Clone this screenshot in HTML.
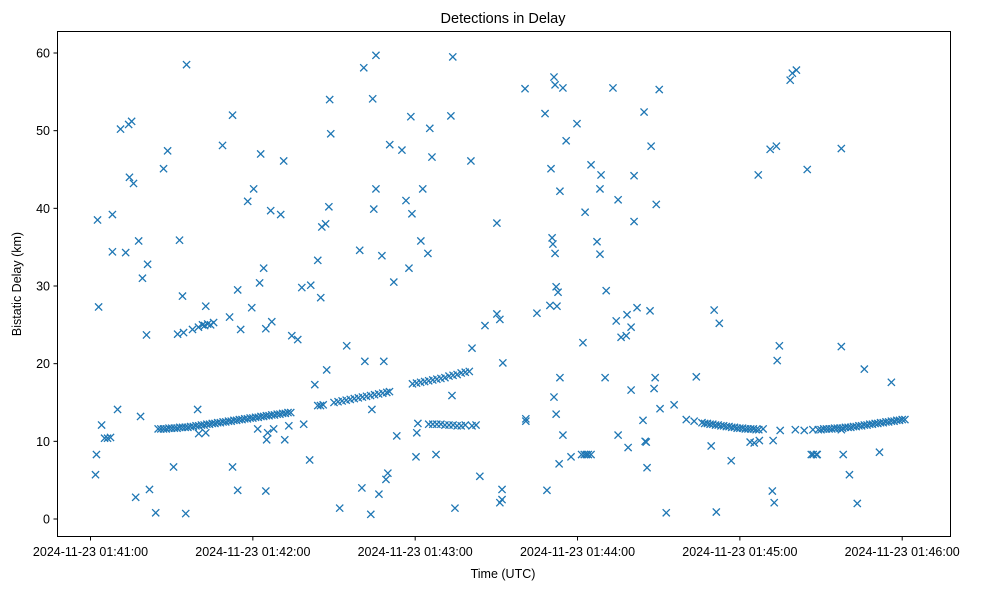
<!DOCTYPE html>
<html><head><meta charset="utf-8"><style>
body{margin:0;background:#fff;}
svg text{font-family:"Liberation Sans","DejaVu Sans",sans-serif;fill:#000;}
</style></head><body>
<svg id="chart" width="983" height="590" viewBox="0 0 983 590" xmlns="http://www.w3.org/2000/svg">
<rect x="0" y="0" width="983" height="590" fill="#fff"/>
<text x="503" y="23" font-size="14.5" text-anchor="middle">Detections in Delay</text>
<g id="marks"></g>
<rect x="57.5" y="31.5" width="893" height="505" fill="none" stroke="#000" stroke-width="1"/>
<g id="xaxis"></g>
<g id="yaxis"></g>
<text x="503" y="578" font-size="12.5" text-anchor="middle">Time (UTC)</text>
<text transform="translate(21,284) rotate(-90)" font-size="12.5" text-anchor="middle">Bistatic Delay (km)</text>
</svg>
<script>
// seconds after 2024-11-23 01:41:00
const scatterTimes=[1.85,2.2,2.6,3.0,4.1,5.2,6.3,7.4,8.1,8.1,10.0,11.1,13.0,14.1,14.4,15.2,15.9,16.7,17.8,18.5,19.2,20.7,21.1,21.8,24.1,27.0,28.5,30.7,32.9,34.0,35.2,35.5,39.6,40.0,42.6,42.6,48.8,51.4,52.5,52.5,54.4,54.4,55.5,58.1,59.6,60.3,61.8,62.5,62.9,64.0,64.8,64.8,65.1,65.5,66.6,67.0,67.7,70.3,71.4,71.8,73.3,74.4,76.6,78.1,78.8,81.0,81.4,82.9,84.0,85.1,85.5,86.9,87.3,88.1,88.4,88.8,92.1,94.7,99.5,100.3,101.0,101.4,103.6,104.0,104.3,104.7,105.5,105.5,106.6,107.7,108.4,109.2,109.9,110.6,112.1,113.2,115.1,116.6,117.7,118.4,118.8,120.3,120.6,121.0,122.1,122.8,124.7,125.4,126.2,127.7,133.2,133.6,133.9,134.7,140.6,141.0,143.9,145.8,150.2,150.2,151.3,151.3,152.1,152.1,152.4,160.6,160.9,160.9,165.0,168.0,168.7,169.8,170.2,170.6,170.9,171.3,171.3,171.7,171.7,172.1,172.1,172.4,172.8,173.2,173.5,173.5,174.6,174.6,175.8,177.6,179.8,182.0,182.8,185.0,187.2,188.3,188.3,188.7,190.2,190.6,193.1,194.3,195.0,195.0,196.1,198.0,198.3,198.7,199.8,199.8,200.9,200.9,202.0,204.2,204.6,205.0,205.4,205.7,206.8,207.2,208.3,208.7,209.1,210.2,210.5,212.8,215.7,220.2,223.1,223.9,229.4,230.5,231.3,232.4,236.8,243.8,245.3,246.8,247.2,248.6,251.2,252.0,252.3,252.7,253.5,253.8,254.6,254.9,258.6,259.4,260.5,260.9,263.8,264.9,266.4,267.1,268.3,268.6,277.5,277.5,277.5,278.2,280.5,283.4,286.0,291.6,296.0];
const scatterDelays=[5.7,8.3,38.5,27.3,12.1,10.4,10.4,10.5,39.2,34.4,14.1,50.2,34.3,50.8,44.0,51.2,43.2,2.8,35.8,13.2,31.0,23.7,32.8,3.8,0.8,45.1,47.4,6.7,35.9,28.7,0.7,58.5,14.1,11.0,11.1,27.4,48.1,26.0,6.7,52.0,3.7,29.5,24.4,40.9,27.2,42.5,11.6,30.4,47.0,32.3,3.6,24.5,10.2,11.1,39.7,25.4,11.6,39.2,46.1,10.2,12.0,23.6,23.1,29.8,12.2,7.6,30.1,17.3,33.3,28.5,37.6,38.0,19.2,40.2,54.0,49.6,1.4,22.3,34.6,4.0,58.1,20.3,0.6,14.1,54.1,39.9,42.5,59.7,3.2,33.9,20.3,5.1,5.9,48.2,30.5,10.7,47.5,41.0,32.3,51.8,39.3,8.0,11.1,12.3,35.8,42.5,34.2,50.3,46.6,8.3,51.9,15.9,59.5,1.4,46.1,22.0,5.5,24.9,38.1,26.4,25.7,2.1,2.5,3.8,20.1,55.4,12.9,12.6,26.5,52.2,3.7,27.5,45.1,36.2,35.4,56.9,15.7,55.9,34.2,13.5,29.9,27.4,29.2,7.1,18.2,42.2,10.8,55.5,48.7,8.0,50.9,22.7,39.5,45.6,35.7,34.1,42.5,44.3,18.2,29.4,55.5,25.5,10.8,41.1,23.4,23.6,26.3,9.2,24.7,16.6,38.3,44.2,27.2,12.7,52.4,10.0,9.9,6.6,26.8,48.0,16.8,18.2,40.5,55.3,14.2,0.8,14.7,12.8,12.6,18.3,9.4,26.9,0.9,25.2,7.5,9.9,9.8,44.3,10.1,11.6,47.6,3.6,10.1,2.1,48.0,20.4,22.3,11.4,56.5,57.4,11.5,57.8,11.4,45.0,8.3,8.3,8.3,8.3,11.5,22.2,47.7,8.3,5.7,2.0,19.3,8.6,17.6,36.5];
const trackTimes=[25,26,27,28,29,30,31,32,33,34,35,36,37,38,39,40,41,42,43,44,45,46,47,48,49,50,51,52,53,54,55,56,57,58,59,60,61,62,63,64,65,66,67,68,69,70,71,72,73,74,
32.2,34.4,37.7,39.9,41.4,42.2,43.3,44.4,45.5,
84,85,86,90,91.5,93,94.5,96,97.5,99,100.5,102,103.5,105,106.5,108,109.5,110.5,
119,120.5,122,123.5,125,126.5,128,129.5,131,132.5,134,135.5,137,138.5,140,
125,126.5,128,129.5,131,132.5,134,135.5,137,138.5,141,142.5,
181.5,182.5,183.3,184,185,
226,227,228,229,230,231,232,233,234,235,236,237,238,239,240,241,242,243,244,245,246,247,
267,269,270,271,272,273,274,275,276,277,278,279,280,281,282,283,284,285,286,287,288,289,290,291,292,293,294,295,296,297,298,299,300,301];
const trackDelays=[11.6,11.6,11.6,11.6,11.7,11.7,11.7,11.7,11.8,11.8,11.8,11.8,11.9,11.9,12.0,12.0,12.1,12.1,12.2,12.2,12.3,12.3,12.4,12.4,12.5,12.5,12.6,12.6,12.7,12.7,12.8,12.8,12.9,12.9,13.0,13.0,13.1,13.1,13.2,13.2,13.3,13.3,13.4,13.4,13.5,13.5,13.6,13.6,13.7,13.7,
23.8,24.0,24.4,24.7,25.0,24.9,25.1,25.0,25.3,
14.6,14.6,14.7,15.0,15.1,15.2,15.3,15.4,15.5,15.6,15.7,15.8,15.9,16.0,16.1,16.2,16.3,16.4,
17.4,17.5,17.6,17.7,17.8,17.9,18.0,18.1,18.2,18.4,18.5,18.6,18.8,18.9,19.0,
12.2,12.2,12.2,12.2,12.1,12.1,12.1,12.0,12.0,12.1,12.0,12.1,
8.3,8.3,8.3,8.3,8.3,
12.4,12.3,12.3,12.2,12.2,12.1,12.1,12.0,12.0,11.9,11.9,11.8,11.8,11.7,11.7,11.7,11.6,11.6,11.6,11.6,11.5,11.5,
11.5,11.5,11.5,11.6,11.6,11.6,11.6,11.7,11.7,11.7,11.7,11.8,11.8,11.8,11.9,11.9,12.0,12.0,12.1,12.1,12.2,12.2,12.3,12.3,12.4,12.4,12.5,12.5,12.6,12.6,12.7,12.7,12.8,12.8];
const xTickSeconds=[0,60,120,180,240,300];
const xTickLabels=["2024-11-23 01:41:00","2024-11-23 01:42:00","2024-11-23 01:43:00","2024-11-23 01:44:00","2024-11-23 01:45:00","2024-11-23 01:46:00"];
const yTicks=[0,10,20,30,40,50,60];

const NS="http://www.w3.org/2000/svg";
function xs(s){return 90.5+s*(902.2-90.5)/300;}
function ys(v){return 519-v*(519-53)/60;}
function mk(tag,attrs,parent){const e=document.createElementNS(NS,tag);for(const k in attrs)e.setAttribute(k,attrs[k]);parent.appendChild(e);return e;}
const marks=document.getElementById('marks');
function drawX(t,v,name){
  const cx=xs(t),cy=ys(v),r=3.6;
  const p=mk('path',{d:`M${cx-r},${cy-r}L${cx+r},${cy+r}M${cx-r},${cy+r}L${cx+r},${cy-r}`,stroke:'#1f77b4','stroke-width':1.3,fill:'none'},marks);
  
  
}
for(let i=0;i<scatterTimes.length;i++)drawX(scatterTimes[i],scatterDelays[i],'detection-point');
for(let i=0;i<trackTimes.length;i++)drawX(trackTimes[i],trackDelays[i],'track-point');
const xa=document.getElementById('xaxis');
xTickSeconds.forEach((s,i)=>{
  const x=xs(s);
  const l=mk('line',{x1:x,x2:x,y1:536.5,y2:540.5,stroke:'#000'},xa);
  
  
  const t=mk('text',{x:x,y:556,'font-size':12.5,'text-anchor':'middle'},xa);
  t.textContent=xTickLabels[i];
  
  
});
const ya=document.getElementById('yaxis');
yTicks.forEach(v=>{
  const y=ys(v);
  const l=mk('line',{x1:53.5,x2:57.5,y1:y,y2:y,stroke:'#000'},ya);
  
  
  const t=mk('text',{x:50,y:y+4.5,'font-size':12.5,'text-anchor':'end'},ya);
  t.textContent=String(v);
  
  
});
</script>
</body></html>
